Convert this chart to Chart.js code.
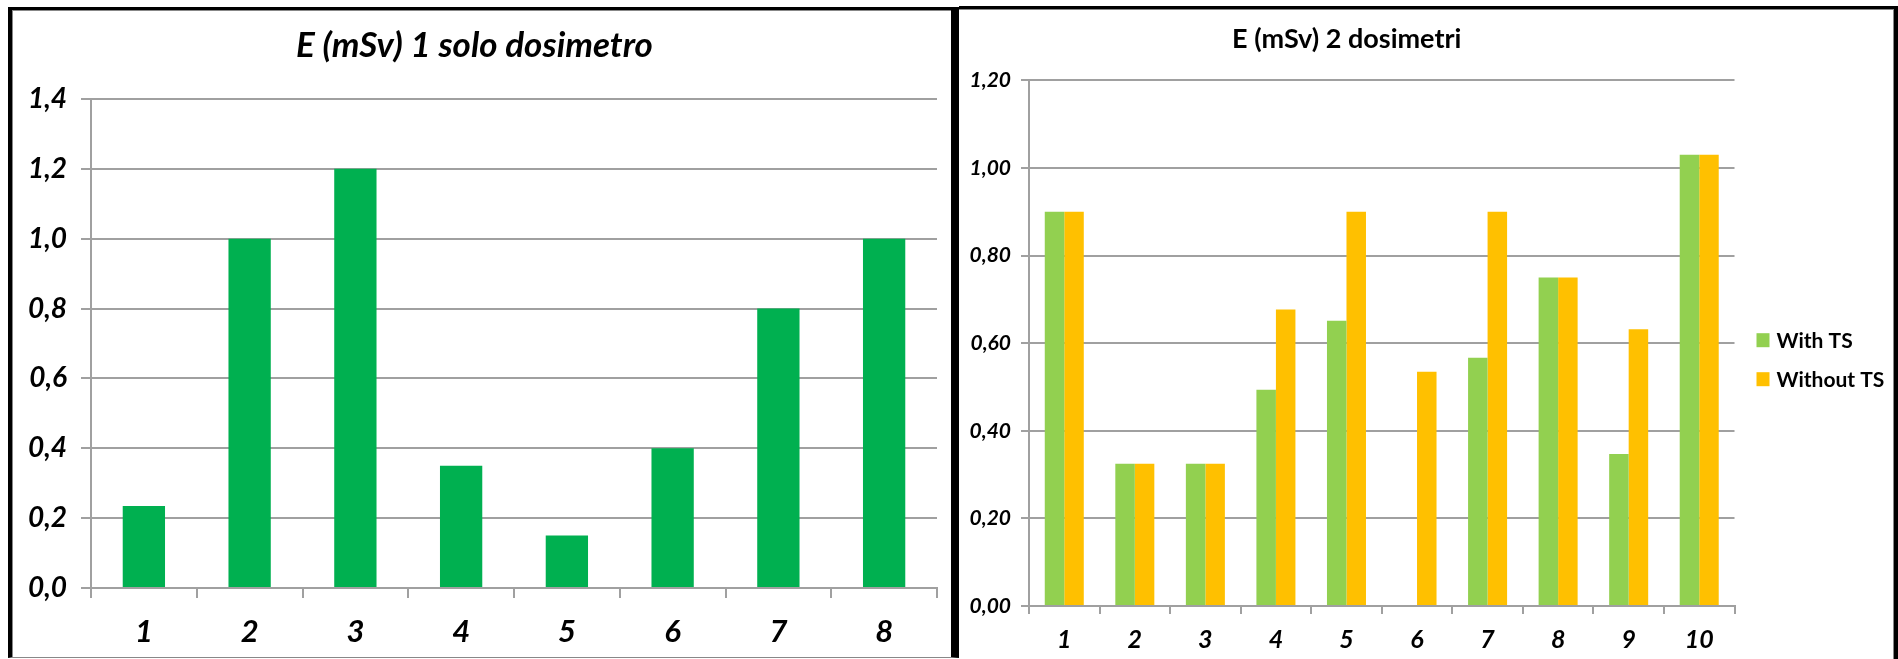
<!DOCTYPE html>
<html>
<head>
<meta charset="utf-8">
<script src="https://cdn.jsdelivr.net/npm/chart.js@4/dist/chart.umd.min.js"></script>
<style>
  html, body { margin: 0; padding: 0; background: #fff; width: 1898px; height: 659px; overflow: hidden; }
  .panel { position: absolute; box-sizing: border-box; background: #fff; }
  #panelSingle {
    left: 8px; top: 7px; width: 951px; height: 651px;
    border-left: 4px solid #000; border-top: 3px solid #000;
    border-right: 8px solid #000; border-bottom: 1px solid #888;
    box-shadow: inset 1px 1px 0 #888;
  }
  #panelDouble {
    left: 959px; top: 6px; width: 939px; height: 660px;
    border-top: 3px solid #000; border-right: 4px solid #000;
    box-shadow: inset -1px 1px 0 #888;
  }
  canvas { position: absolute; left: 0; top: 0; }
</style>
</head>
<body>
<div class="panel" id="panelSingle"><canvas id="chartSingle" width="939" height="647"></canvas></div>
<div class="panel" id="panelDouble"><canvas id="chartDouble" width="935" height="650"></canvas></div>

<script>
// E (mSv) con un solo dosimetro
const singleLabels = ['1', '2', '3', '4', '5', '6', '7', '8'];
const singleValues = [0.235, 1.0, 1.2, 0.35, 0.15, 0.4, 0.8, 1.0];

// E (mSv) con 2 dosimetri
const doubleLabels = ['1', '2', '3', '4', '5', '6', '7', '8', '9', '10'];
const withTS = [0.90, 0.325, 0.325, 0.494, 0.651, 0, 0.567, 0.75, 0.347, 1.03];
const withoutTS = [0.90, 0.325, 0.325, 0.677, 0.90, 0.535, 0.90, 0.75, 0.632, 1.03];

const GRID = '#a0a0a0';
Chart.defaults.font.family = 'Lato, "Open Sans", sans-serif';
Chart.defaults.color = '#000';

function commaTick(decimals) {
  return v => Number(v).toFixed(decimals).replace('.', ',');
}

// legenda a destra, disegnata accanto all'area del grafico
const sideLegend = {
  id: 'sideLegend',
  afterDraw(chart) {
    const { ctx, chartArea } = chart;
    const x = chartArea.right + 22;
    let y = (chartArea.top + chartArea.bottom) / 2 - 3;
    ctx.save();
    ctx.font = 'bold 21px Lato, sans-serif';
    ctx.textBaseline = 'middle';
    chart.data.datasets.forEach(ds => {
      ctx.fillStyle = ds.backgroundColor;
      ctx.fillRect(x, y - 7, 13, 14);
      ctx.fillStyle = '#000';
      ctx.fillText(ds.label, x + 20, y + 1);
      y += 39;
    });
    ctx.restore();
  }
};

new Chart(document.getElementById('chartSingle'), {
  type: 'bar',
  data: {
    labels: singleLabels,
    datasets: [{
      data: singleValues,
      backgroundColor: '#00b050',
      categoryPercentage: 0.4,
      barPercentage: 1.0
    }]
  },
  options: {
    responsive: false,
    animation: false,
    layout: { padding: { top: 0, left: 0, right: 14, bottom: 0 } },
    plugins: {
      legend: { display: false },
      tooltip: { enabled: false },
      title: {
        display: true,
        text: 'E (mSv) 1 solo dosimetro',
        font: { size: 35, style: 'italic', weight: 'bold' },
        color: '#000',
        padding: { top: 15, bottom: 32 }
      }
    },
    scales: {
      x: {
        grid: { drawOnChartArea: false, drawTicks: true, tickLength: 10, color: GRID, lineWidth: 2 },
        border: { display: true, color: GRID, width: 2 },
        ticks: { padding: 15, font: { size: 31, style: 'italic', weight: 'bold' } },
        afterFit(scale) { scale.height = 69; }
      },
      y: {
        min: 0,
        max: 1.4,
        ticks: { stepSize: 0.2, padding: 14, callback: commaTick(1), font: { size: 28, style: 'italic', weight: 'bold' } },
        grid: { color: GRID, lineWidth: 2, tickLength: 10 },
        border: { display: true, color: GRID, width: 2 },
        afterFit(scale) { scale.width = 79; }
      }
    }
  }
});

new Chart(document.getElementById('chartDouble'), {
  type: 'bar',
  data: {
    labels: doubleLabels,
    datasets: [
      { label: 'With TS', data: withTS, backgroundColor: '#92d050', categoryPercentage: 0.553, barPercentage: 1.0 },
      { label: 'Without TS', data: withoutTS, backgroundColor: '#ffc000', categoryPercentage: 0.553, barPercentage: 1.0 }
    ]
  },
  options: {
    responsive: false,
    animation: false,
    layout: { padding: { top: 0, left: 0, right: 159.5, bottom: 0 } },
    plugins: {
      legend: { display: false },
      tooltip: { enabled: false },
      title: {
        display: true,
        text: 'E (mSv) 2 dosimetri',
        font: { size: 27, weight: 'bold' },
        color: '#000',
        padding: { top: 14, bottom: 25 }
      }
    },
    scales: {
      x: {
        grid: { drawOnChartArea: false, drawTicks: true, tickLength: 8, color: GRID, lineWidth: 2 },
        border: { display: true, color: GRID, width: 2 },
        ticks: { padding: 11, font: { size: 25, style: 'italic', weight: 'bold' } },
        afterFit(scale) { scale.height = 53; }
      },
      y: {
        min: 0,
        max: 1.2,
        ticks: { stepSize: 0.2, padding: 10, callback: commaTick(2), font: { size: 21, style: 'italic', weight: 'bold' } },
        grid: { color: GRID, lineWidth: 2, tickLength: 8 },
        border: { display: true, color: GRID, width: 2 },
        afterFit(scale) { scale.width = 70; }
      }
    }
  },
  plugins: [sideLegend]
});
</script>
</body>
</html>
